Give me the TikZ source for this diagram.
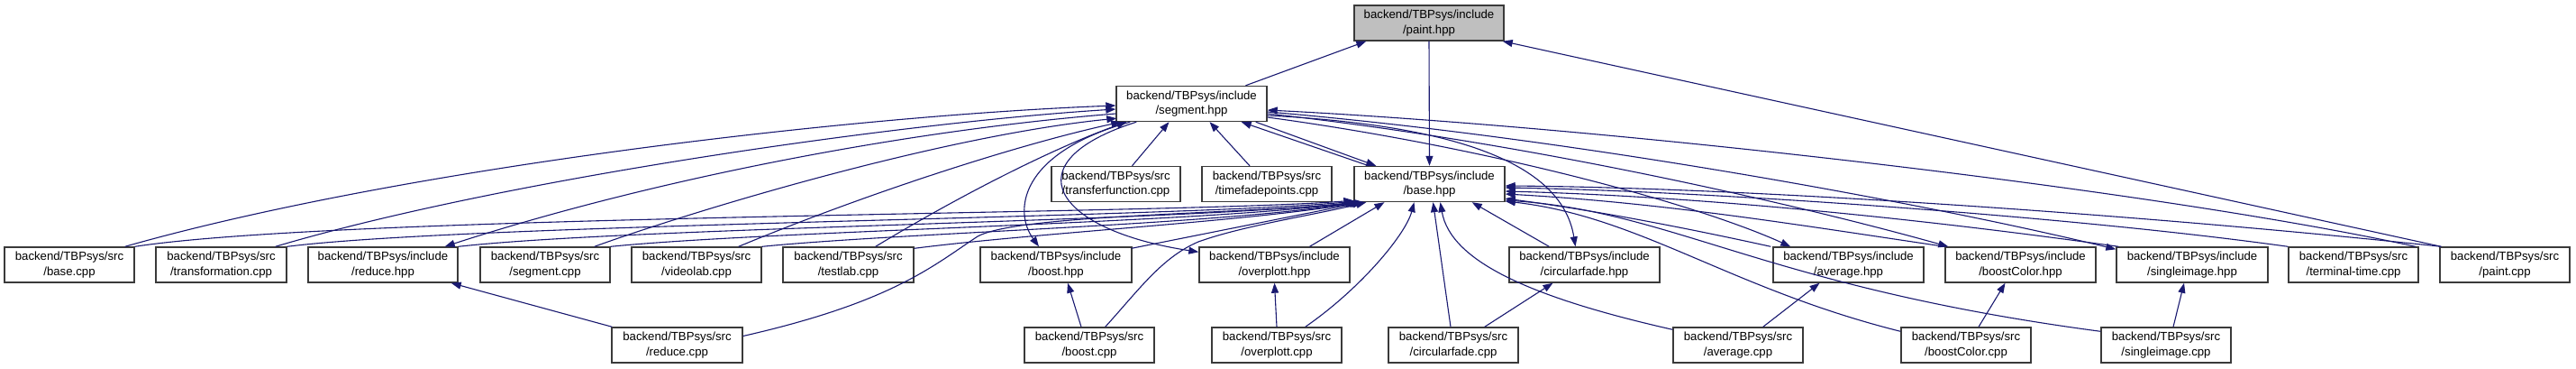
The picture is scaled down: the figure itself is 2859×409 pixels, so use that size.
\documentclass[tikz,border=0pt]{standalone}
\usepackage{fontspec}
\setmainfont{Liberation Sans}
\usetikzlibrary{arrows.meta,calc}
\definecolor{midnight}{HTML}{191970}
\definecolor{boxline}{HTML}{3A3A3A}
\definecolor{rootfill}{HTML}{BFBFBF}
\tikzset{
  box/.style={draw=boxline, line width=1.4pt, minimum height=39pt, inner sep=0pt, align=center,
    font=\fontsize{13.2}{16.5}\selectfont},
  incbox/.style={box, minimum width=167pt},
  srcbox/.style={box, minimum width=144pt},
  dep/.style={draw=midnight, line width=1.1pt, -{Triangle[length=11pt,width=8pt]}},
}
\begin{document}
\begin{tikzpicture}[x=1pt,y=-1pt]
\useasboundingbox[fill=white] (0,0) rectangle (2859,409);
% nodes
\node[incbox, fill=rootfill, minimum width=166pt] (paintH) at (1586,25.5) {backend/TBPsys/include\\/paint.hpp};
\node[incbox] (segH) at (1322.5,115) {backend/TBPsys/include\\/segment.hpp};
\node[srcbox, minimum width=143pt] (tfC) at (1238.5,204) {backend/TBPsys/src\\/transferfunction.cpp};
\node[srcbox] (tfpC) at (1406,204) {backend/TBPsys/src\\/timefadepoints.cpp};
\node[incbox] (baseH) at (1586.5,204) {backend/TBPsys/include\\/base.hpp};
% middle row
\node[srcbox] (baseC) at (77,293.5) {backend/TBPsys/src\\/base.cpp};
\node[srcbox, minimum width=145pt] (transC) at (245.5,293.5) {backend/TBPsys/src\\/transformation.cpp};
\node[incbox, minimum width=166pt] (reduceH) at (425,293.5) {backend/TBPsys/include\\/reduce.hpp};
\node[srcbox] (segC) at (605,293.5) {backend/TBPsys/src\\/segment.cpp};
\node[srcbox] (videoC) at (773,293.5) {backend/TBPsys/src\\/videolab.cpp};
\node[srcbox, minimum width=145pt] (testC) at (941.5,293.5) {backend/TBPsys/src\\/testlab.cpp};
\node[incbox, minimum width=168pt] (boostH) at (1172,293.5) {backend/TBPsys/include\\/boost.hpp};
\node[incbox] (overH) at (1414.5,293.5) {backend/TBPsys/include\\/overplott.hpp};
\node[incbox] (circH) at (1758.5,293.5) {backend/TBPsys/include\\/circularfade.hpp};
\node[incbox] (avgH) at (2051.5,293.5) {backend/TBPsys/include\\/average.hpp};
\node[incbox] (bcH) at (2242.5,293.5) {backend/TBPsys/include\\/boostColor.hpp};
\node[incbox, minimum width=168pt] (siH) at (2433,293.5) {backend/TBPsys/include\\/singleimage.hpp};
\node[srcbox] (termC) at (2612,293.5) {backend/TBPsys/src\\/terminal-time.cpp};
\node[srcbox] (paintC) at (2780,293.5) {backend/TBPsys/src\\/paint.cpp};
% bottom row
\node[srcbox, minimum width=145pt] (reduceC) at (751.5,382.5) {backend/TBPsys/src\\/reduce.cpp};
\node[srcbox] (boostC) at (1209,382.5) {backend/TBPsys/src\\/boost.cpp};
\node[srcbox] (overC) at (1417,382.5) {backend/TBPsys/src\\/overplott.cpp};
\node[srcbox] (circC) at (1613,382.5) {backend/TBPsys/src\\/circularfade.cpp};
\node[srcbox] (avgC) at (1929,382.5) {backend/TBPsys/src\\/average.cpp};
\node[srcbox] (bcC) at (2182,382.5) {backend/TBPsys/src\\/boostColor.cpp};
\node[srcbox] (siC) at (2404,382.5) {backend/TBPsys/src\\/singleimage.cpp};
% edges to paint.hpp
\draw[dep] ($(segH.north)+(60,0)$) -- ($(paintH.south west)+(14,0)$);
\draw[dep] ($(paintC.north west)+(2,0)$) -- ($(paintH.south east)+(-2,0)$);
\draw[dep] (paintH.south) -- (baseH.north);
% segment <-> base
\draw[dep] ($(baseH.north west)+(17,0)$) -- ($(segH.south east)+(-29,0)$);
\draw[dep] ($(segH.south east)+(-13,0)$) -- ($(baseH.north west)+(25,0)$);
\draw[dep] ($(tfC.north)+(18,0)$) -- ($(segH.south)+(-25,0)$);
\draw[dep] ($(tfpC.north)+(-19,0)$) -- ($(segH.south)+(20,0)$);
% left side into segment.hpp
\draw[dep] ($(baseC.north east)+(-11,0)$) .. controls (450,185) and (950,128) .. ($(segH.west)+(0,2)$);
\draw[dep] ($(transC.north east)+(-13,0)$) .. controls (560,198) and (1000,136) .. ($(segH.west)+(0,6)$);
\draw[dep] ($(segH.west)+(0,11)$) .. controls (1000,145) and (720,200) .. ($(reduceH.north east)+(-15,0)$);
\draw[dep] ($(segC.north east)+(-18,0)$) .. controls (780,230) and (1050,150) .. ($(segH.south west)+(1,-4)$);
\draw[dep] ($(videoC.north east)+(-26,0)$) .. controls (960,215) and (1130,160) .. ($(segH.south west)+(6,0)$);
\draw[dep] ($(testC.north east)+(-43,0)$) .. controls (1080,208) and (1180,160) .. ($(segH.south west)+(12,0)$);
\draw[dep] ($(segH.south west)+(16,0)$) .. controls (1130,170) and (1125,235) .. ($(boostH.north)+(-19,0)$);
\draw[dep] ($(segH.south west)+(23,0)$) .. controls (1120,180) and (1170,255) .. ($(overH.north west)+(0,6)$);
% left side into base.hpp
\draw[dep] (baseC.north east) .. controls (380,238) and (1300,238) .. ($(baseH.south west)+(0,-2)$);
\draw[dep] (transC.north east) .. controls (520,248) and (1300,242) .. ($(baseH.south west)+(1,-1)$);
\draw[dep] (reduceH.north east) .. controls (700,252) and (1300,246) .. ($(baseH.south west)+(2,0)$);
\draw[dep] (segC.north east) .. controls (850,256) and (1320,248) .. ($(baseH.south west)+(4,0)$);
\draw[dep] (videoC.north east) .. controls (1000,258) and (1340,250) .. ($(baseH.south west)+(6,0)$);
\draw[dep] ($(testC.north east)+(0,2)$) .. controls (1150,258) and (1380,246) .. ($(baseH.south west)+(8,0)$);
\draw[dep] ($(boostH.north east)+(-1,2)$) -- ($(baseH.south west)+(10,0)$);
\draw[dep] ($(reduceC.east)+(0,-10)$) .. controls (990,335) and (1035,295) .. (1085,262) .. controls (1130,238) and (1360,238) .. ($(baseH.south west)+(12,0)$);
\draw[dep] ($(boostC.north east)+(-55,0)$) .. controls (1265,320) and (1290,285) .. (1330,268) .. controls (1380,250) and (1460,238) .. ($(baseH.south west)+(14,0)$);
\draw[dep] ($(overH.north)+(39,0)$) -- ($(baseH.south)+(-50,0)$);
\draw[dep] ($(overC.north east)+(-41,0)$) .. controls (1510,320) and (1560,260) .. ($(baseH.south)+(-17,0)$);
% bottom row to middle row
\draw[dep] (overC.north) -- (overH.south);
\draw[dep] ($(boostC.north)+(-9,0)$) -- ($(boostH.south)+(13,0)$);
\draw[dep] ($(reduceC.north west)+(1,0)$) -- ($(reduceH.south east)+(-8,0)$);
\draw[dep] ($(circC.north)+(-3,0)$) -- ($(baseH.south)+(4,0)$);
\draw[dep] ($(circC.north east)+(-38,0)$) -- ($(circH.south)+(-35,0)$);
\draw[dep] ($(circH.north west)+(45,0)$) -- ($(baseH.south east)+(-37,0)$);
\draw[dep] ($(avgC.north east)+(-45,0)$) -- ($(avgH.south)+(-32,0)$);
\draw[dep] ($(bcC.north)+(14,0)$) -- ($(bcH.south)+(-17,0)$);
\draw[dep] ($(siC.north)+(8,0)$) -- ($(siH.south)+(-9,0)$);
% right side of segment.hpp
\draw[dep] ($(segH.east)+(0,13)$) .. controls (1640,140) and (1735,190) .. ($(circH.north)+(-10,0)$);
\draw[dep] ($(segH.east)+(0,15)$) .. controls (1650,163) and (1880,225) .. ($(avgH.north west)+(20,0)$);
\draw[dep] ($(segH.east)+(0,11)$) .. controls (1700,158) and (2000,228) .. ($(bcH.north west)+(4,0)$);
\draw[dep] ($(segH.east)+(0,9)$) .. controls (1750,153) and (2150,228) .. ($(siH.north west)+(0,3)$);
\draw[dep] ($(termC.north east)+(-4,0)$) .. controls (2400,212) and (1800,142) .. ($(segH.east)+(0,7)$);
% right side of base.hpp
\draw[dep] (termC.north west) .. controls (2300,240) and (1900,212) .. ($(baseH.east)+(0,4)$);
\draw[dep] ($(paintC.north west)+(2,0)$) .. controls (2400,240) and (1950,208) .. ($(baseH.east)+(0,2)$);
\draw[dep] ($(siH.north west)+(3,0)$) .. controls (2150,245) and (1900,218) .. ($(baseH.east)+(0,8)$);
\draw[dep] (bcH.north west) .. controls (2000,250) and (1850,225) .. ($(baseH.east)+(0,11)$);
\draw[dep] ($(avgH.north west)+(-2,0)$) .. controls (1850,248) and (1760,232) .. ($(baseH.east)+(0,16)$);
\draw[dep] ($(avgC.north west)+(0,3)$) .. controls (1700,330) and (1610,290) .. ($(baseH.south)+(12,0)$);
\draw[dep] ($(bcC.north west)+(0,5)$) .. controls (1920,320) and (1820,240) .. ($(baseH.east)+(0,19)$);
\draw[dep] ($(siC.north west)+(0,5)$) .. controls (1960,318) and (1860,235) .. ($(baseH.east)+(0,18)$);
\end{tikzpicture}
\end{document}
